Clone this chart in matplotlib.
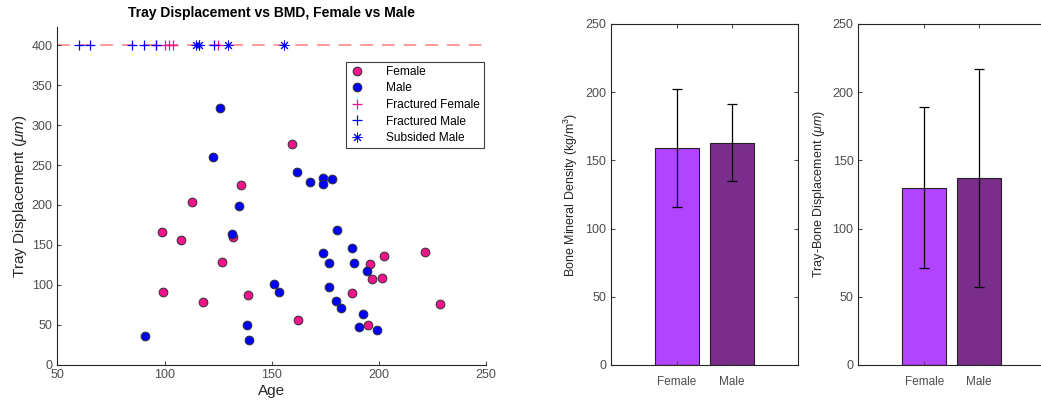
"""Tray displacement vs age scatter, with BMD and displacement bar summaries."""
import numpy as np
import matplotlib
matplotlib.use("Agg")
import matplotlib.pyplot as plt

plt.rcParams["font.family"] = ["Liberation Sans", "DejaVu Sans"]
plt.rcParams["mathtext.fontset"] = "custom"
plt.rcParams["mathtext.rm"] = "Liberation Sans"
plt.rcParams["mathtext.it"] = "Liberation Sans:italic"

# scatter data (age, displacement in um)
female_age = [159.6, 135.6, 112.6, 98.8, 107.5, 132.1, 126.8, 99.2, 117.8, 138.8,
              162.1, 187.6, 194.8, 195.7, 196.9, 201.6, 202.4, 221.5, 228.7]
female_disp = [276.7, 225.2, 203.9, 165.9, 156.6, 160.0, 128.6, 91.0, 78.8, 86.8,
               55.8, 90.1, 49.2, 126.5, 107.7, 108.1, 136.1, 141.2, 75.5]
male_age = [125.8, 122.4, 161.9, 167.7, 174.1, 174.1, 178.0, 134.6, 131.6, 180.5,
            187.6, 174.1, 176.6, 188.4, 194.6, 151.2, 153.2, 176.6, 180.0, 182.5,
            192.4, 190.7, 199.1, 138.3, 139.5, 90.8]
male_disp = [321.0, 259.5, 240.7, 229.0, 233.6, 226.1, 232.3, 198.9, 164.1, 168.8,
             146.2, 139.5, 127.8, 127.8, 117.3, 100.6, 91.0, 97.6, 80.1, 70.9,
             63.4, 47.4, 42.9, 49.2, 31.1, 35.4]

# failed cases, plotted on the 400 um line
fail_level = 400
fractured_female_age = [96.0, 100.2, 102.0, 104.0, 124.8]
fractured_male_age = [60.2, 65.2, 84.9, 90.5, 96.0, 116.0, 123.2]
subsided_male_age = [114.5, 116.0, 129.4, 155.9]

# bar summaries
groups = ["Female", "Male"]
bmd_mean = [159, 163]
bmd_err = [43, 28]
tray_mean = [130, 137]
tray_err = [59, 80]

pink = "#F0148C"
blue = "#0000FF"
bar_colors = ["#B244FF", "#7B2D8C"]
axis_grey = "#262626"
label_grey = "#4D4D4D"

fig = plt.figure(figsize=(10.41, 4.08), dpi=100)


def style_axes(ax, box):
    ax.tick_params(direction="in", length=3, labelsize=9, colors=label_grey,
                   top=box, right=box)
    for side in ["top", "right"]:
        ax.spines[side].set_visible(box)
    for sp in ax.spines.values():
        sp.set_color(axis_grey)
        sp.set_linewidth(0.8)


# scatter panel
ax1 = fig.add_axes([0.0552, 0.1066, 0.4117, 0.8272])
ax1.axhline(fail_level, color="#FF9090", lw=1.3, dashes=(7, 5), zorder=1)
ax1.plot(female_age, female_disp, "o", ms=6.3, mfc=pink, mec="#303030", mew=0.7,
         label="Female", zorder=3)
ax1.plot(male_age, male_disp, "o", ms=6.3, mfc=blue, mec="#303030", mew=0.7,
         label="Male", zorder=3)
ax1.plot(fractured_female_age, np.full(len(fractured_female_age), fail_level), "+",
         ms=7, mew=0.9, color=pink, label="Fractured Female", zorder=4)
ax1.plot(fractured_male_age, np.full(len(fractured_male_age), fail_level), "+",
         ms=7, mew=0.9, color=blue, label="Fractured Male", zorder=4)
ax1.plot(subsided_male_age, np.full(len(subsided_male_age), fail_level),
         marker=(8, 2, 0), ls="none", ms=7, mew=0.7, color=blue,
         label="Subsided Male", zorder=4)
ax1.set_xlim(50, 250)
ax1.set_ylim(0, 423)
ax1.set_xticks(np.arange(50, 251, 50))
ax1.set_yticks(np.arange(0, 401, 50))
style_axes(ax1, False)
ax1.set_xlabel("Age", fontsize=11, color=axis_grey, labelpad=2)
ax1.set_ylabel(r"Tray Displacement ($\mu m$)", fontsize=11, color=axis_grey,
               labelpad=2)
ax1.set_title("Tray Displacement vs BMD, Female vs Male", fontsize=10,
              fontweight="bold", color="black", pad=7)
leg = ax1.legend(loc="upper right", bbox_to_anchor=(0.995, 0.897), fontsize=8.6,
                 fancybox=False, edgecolor="#404040", framealpha=1,
                 handlelength=1.2, handletextpad=1.8, borderpad=0.35,
                 labelspacing=0.38, borderaxespad=0)
leg.get_frame().set_linewidth(0.8)

# bar panels
xpos = np.arange(1, len(groups) + 1)
for left, means, errs, ylab in [
        (0.587, bmd_mean, bmd_err, r"Bone Mineral Density (kg/m$^3$)"),
        (0.8245, tray_mean, tray_err, r"Tray-Bone Displacement ($\mu m$)")]:
    ax = fig.add_axes([left, 0.1054, 0.1793, 0.8358])
    ax.bar(xpos, means, width=0.8, color=bar_colors, edgecolor="#222222", lw=0.8)
    ax.errorbar(xpos, means, yerr=errs, fmt="none", ecolor="black", elinewidth=0.9,
                capsize=3.5, capthick=0.9)
    ax.set_xlim(-0.2, 3.2)
    ax.set_ylim(0, 250)
    ax.set_xticks(xpos)
    ax.set_xticklabels(groups)
    ax.set_yticks(np.arange(0, 251, 50))
    style_axes(ax, True)
    ax.tick_params(axis="x", labelsize=8.5, pad=8)
    ax.set_ylabel(ylab, fontsize=9, color=axis_grey, labelpad=4)

fig.savefig("out.png", dpi=100)
